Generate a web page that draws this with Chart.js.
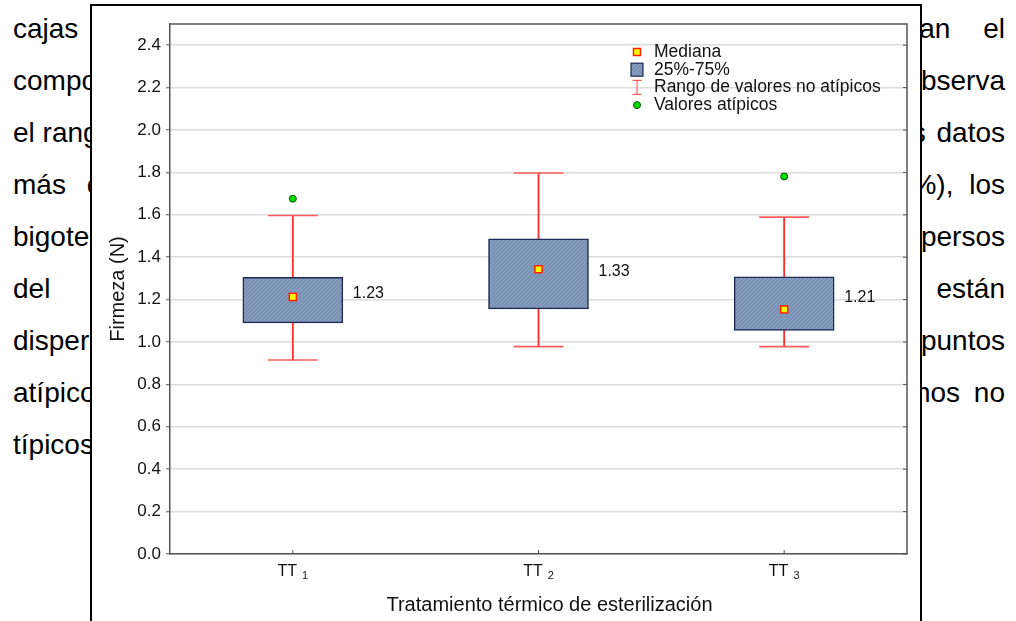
<!DOCTYPE html>
<html lang="es">
<head>
<meta charset="utf-8">
<title>Firmeza por tratamiento térmico de esterilización</title>
<script src="https://cdn.jsdelivr.net/npm/chart.js@4.4.1/dist/chart.umd.min.js"></script>
<style>
  html, body { margin: 0; padding: 0; width: 1016px; height: 621px; overflow: hidden; background: #fff; }
  body { position: relative; font-family: "Liberation Sans", Arial, sans-serif; color: #000; }
  .col { position: absolute; top: 3px; font-size: 28px; line-height: 52px; }
  .col div { white-space: nowrap; }
  #left { left: 13px; }
  #right { right: 11px; text-align: right; }
  #frame { position: absolute; left: 90px; top: 4px; width: 832px; height: 700px;
           border: 2px solid #000; box-sizing: border-box; background: #fff; }
  #chart-box { position: absolute; left: 0; top: 0; width: 828px; height: 615px; }
</style>
</head>
<body>

<!-- page text behind the figure -->
<div class="col" id="left">
  <div style="word-spacing:14px">cajas y bigotes</div>
  <div>comportamiento de</div>
  <div>el rango de</div>
  <div style="word-spacing:13px">más concentrados</div>
  <div>bigotes muestran</div>
  <div style="word-spacing:45px">del conjunto</div>
  <div>dispersos de</div>
  <div>atípicos que</div>
  <div>típicos.</div>
</div>
<div class="col" id="right">
  <div style="word-spacing:25px">representan el</div>
  <div>se observa</div>
  <div style="word-spacing:3px">los datos</div>
  <div style="word-spacing:8px">(25%-75%), los</div>
  <div>dispersos</div>
  <div style="word-spacing:30px">datos están</div>
  <div>puntos</div>
  <div style="word-spacing:6px">extremos no</div>
</div>

<div id="frame">
  <div id="chart-box"><canvas id="chart" width="828" height="615"></canvas></div>
</div>

<script>
// Data
const categories = ['TT 1', 'TT 2', 'TT 3'];
const q1 = [1.09, 1.156, 1.055];
const q3 = [1.305, 1.487, 1.307];
const medians = [1.213, 1.343, 1.153];
const whiskerLow = [0.915, 0.978, 0.978];
const whiskerHigh = [1.597, 1.797, 1.589];
const outliers = [1.676, null, 1.781];
const medianLabels = [1.23, 1.33, 1.21];
const yTicks = [0, 0.2, 0.4, 0.6, 0.8, 1.0, 1.2, 1.4, 1.6, 1.8, 2.0, 2.2, 2.4];
const legendLabels = ['Mediana', '25%-75%', 'Rango de valores no atípicos', 'Valores atípicos'];
const xTitle = 'Tratamiento térmico de esterilización';

const fontFamily = '"Liberation Sans", Arial, sans-serif';
Chart.defaults.font.family = fontFamily;
Chart.defaults.color = '#111';

const ctx = document.getElementById('chart').getContext('2d');

// hatched blue fill like the original boxes
function makeHatch() {
    const c = document.createElement('canvas');
    c.width = 4; c.height = 4;
    const g = c.getContext('2d');
    g.fillStyle = '#839bbc';
    g.fillRect(0, 0, 4, 4);
    g.strokeStyle = '#7088aa';
    g.lineWidth = 1;
    g.beginPath();
    g.moveTo(0, 4); g.lineTo(4, 0);
    g.stroke();
    return ctx.createPattern(c, 'repeat');
}
const hatch = makeHatch();

const boxColor = '#1c2a55';
const whiskerColor = '#ff3030';
const capColor = '#ff5c5c';

// frame, inner ticks, x labels with subscript, axis title, median labels and legend
const decorations = {
    id: 'decorations',
    afterDraw(chart) {
        const { ctx, chartArea: a, scales: { x, y } } = chart;
        ctx.save();

        ctx.strokeStyle = '#555';
        ctx.lineWidth = 1.5;
        ctx.beginPath();
        ctx.moveTo(a.left, a.top);
        ctx.lineTo(a.right, a.top);
        ctx.lineTo(a.right, a.bottom);
        ctx.stroke();

        ctx.lineWidth = 1;
        ctx.beginPath();
        yTicks.forEach(v => {
            const py = y.getPixelForValue(v);
            ctx.moveTo(a.right - 4, py);
            ctx.lineTo(a.right, py);
        });
        categories.forEach((c, i) => {
            const px = x.getPixelForValue(i);
            ctx.moveTo(px, a.bottom);
            ctx.lineTo(px, a.bottom - 4);
        });
        ctx.stroke();

        // category labels: "TT" + subscript
        ctx.fillStyle = '#111';
        ctx.textBaseline = 'middle';
        ctx.textAlign = 'left';
        categories.forEach((c, i) => {
            const [base, sub] = c.split(' ');
            ctx.font = '16px ' + fontFamily;
            const wb = ctx.measureText(base).width;
            ctx.font = '11px ' + fontFamily;
            const ws = ctx.measureText(sub).width;
            const gap = 5;
            const start = x.getPixelForValue(i) - (wb + gap + ws) / 2;
            const ly = a.bottom + 18;
            ctx.font = '16px ' + fontFamily;
            ctx.fillText(base, start, ly);
            ctx.font = '11px ' + fontFamily;
            ctx.fillText(sub, start + wb + gap, ly + 4);
        });

        // x axis title (sits a little right of the plot centre in the original)
        ctx.font = '20px ' + fontFamily;
        ctx.textAlign = 'center';
        ctx.fillText(xTitle, (a.left + a.right) / 2 + 11, a.bottom + 51);

        // median value labels
        ctx.textAlign = 'left';
        ctx.font = '16px ' + fontFamily;
        medianLabels.forEach((v, i) => {
            ctx.fillText(v.toFixed(2), x.getPixelForValue(i) + 60, y.getPixelForValue(v));
        });

        // legend
        const lx = 545, tx = 562, ly0 = 46, step = 17.7;
        ctx.font = '17.5px ' + fontFamily;
        legendLabels.forEach((t, i) => ctx.fillText(t, tx, ly0 + i * step));

        let ly = ly0;
        ctx.fillStyle = '#ffff00';
        ctx.strokeStyle = '#ff2200';
        ctx.lineWidth = 1.5;
        ctx.fillRect(lx - 3.5, ly - 3.5, 7, 7);
        ctx.strokeRect(lx - 3.5, ly - 3.5, 7, 7);

        ly += step;
        ctx.fillStyle = hatch;
        ctx.strokeStyle = boxColor;
        ctx.lineWidth = 1.2;
        ctx.fillRect(lx - 6, ly - 6.5, 12, 13);
        ctx.strokeRect(lx - 6, ly - 6.5, 12, 13);

        ly += step;
        ctx.strokeStyle = capColor;
        ctx.lineWidth = 1.2;
        ctx.beginPath();
        ctx.moveTo(lx, ly - 7); ctx.lineTo(lx, ly + 7);
        ctx.moveTo(lx - 4.5, ly - 7); ctx.lineTo(lx + 4.5, ly - 7);
        ctx.moveTo(lx - 4.5, ly + 7); ctx.lineTo(lx + 4.5, ly + 7);
        ctx.stroke();

        ly += step;
        ctx.fillStyle = '#00e000';
        ctx.strokeStyle = '#114411';
        ctx.lineWidth = 1;
        ctx.beginPath();
        ctx.arc(lx, ly, 3.5, 0, Math.PI * 2);
        ctx.fill();
        ctx.stroke();

        ctx.restore();
    }
};

new Chart(ctx, {
    type: 'bar',
    data: {
        labels: categories,
        datasets: [
            {
                label: 'Rango de valores no atípicos',
                data: categories.map((c, i) => [whiskerLow[i], whiskerHigh[i]]),
                backgroundColor: whiskerColor,
                borderWidth: 0,
                barThickness: 1.2,
                grouped: false,
                order: 4
            },
            {
                label: '25%-75%',
                data: categories.map((c, i) => [q1[i], q3[i]]),
                backgroundColor: hatch,
                borderColor: boxColor,
                borderWidth: 1.5,
                borderSkipped: false,
                barThickness: 100,
                grouped: false,
                order: 2
            },
            {
                type: 'line',
                label: 'cap low',
                data: whiskerLow,
                showLine: false,
                pointStyle: 'line',
                pointRadius: 25,
                pointBorderColor: capColor,
                pointBorderWidth: 1.6,
                order: 3
            },
            {
                type: 'line',
                label: 'cap high',
                data: whiskerHigh,
                showLine: false,
                pointStyle: 'line',
                pointRadius: 25,
                pointBorderColor: capColor,
                pointBorderWidth: 1.6,
                order: 3
            },
            {
                type: 'line',
                label: 'Mediana',
                data: medians,
                showLine: false,
                pointStyle: 'rect',
                pointRadius: 5,
                pointBackgroundColor: '#ffff00',
                pointBorderColor: '#ff2200',
                pointBorderWidth: 1.5,
                order: 0
            },
            {
                type: 'line',
                label: 'Valores atípicos',
                data: outliers,
                showLine: false,
                pointStyle: 'circle',
                pointRadius: 3.5,
                pointBackgroundColor: '#00e000',
                pointBorderColor: '#114411',
                pointBorderWidth: 1,
                order: 0
            }
        ]
    },
    options: {
        responsive: false,
        animation: false,
        events: [],
        layout: { autoPadding: false, padding: { top: 18, right: 13, left: 0, bottom: 0 } },
        plugins: {
            legend: { display: false },
            tooltip: { enabled: false }
        },
        scales: {
            x: {
                afterFit: s => { s.height = 67; },
                grid: { display: false },
                border: { display: true, color: '#555', width: 1.5 },
                ticks: { display: false },
                title: { display: false }
            },
            y: {
                min: 0,
                max: 2.5,
                afterBuildTicks: s => { s.ticks = yTicks.map(v => ({ value: v })); },
                afterFit: s => { s.width = 78; },
                ticks: {
                    font: { size: 17 },
                    color: '#111',
                    padding: 5,
                    callback: v => Number(v).toFixed(1)
                },
                grid: { color: '#dcdcdc', lineWidth: 1.5, tickColor: '#555', tickLength: 4, tickWidth: 1 },
                border: { color: '#555', width: 1.5 },
                title: {
                    display: true,
                    text: 'Firmeza (N)',
                    font: { size: 20 },
                    color: '#111',
                    padding: { top: 14, bottom: 0 }
                }
            }
        }
    },
    plugins: [decorations]
});
</script>
</body>
</html>
